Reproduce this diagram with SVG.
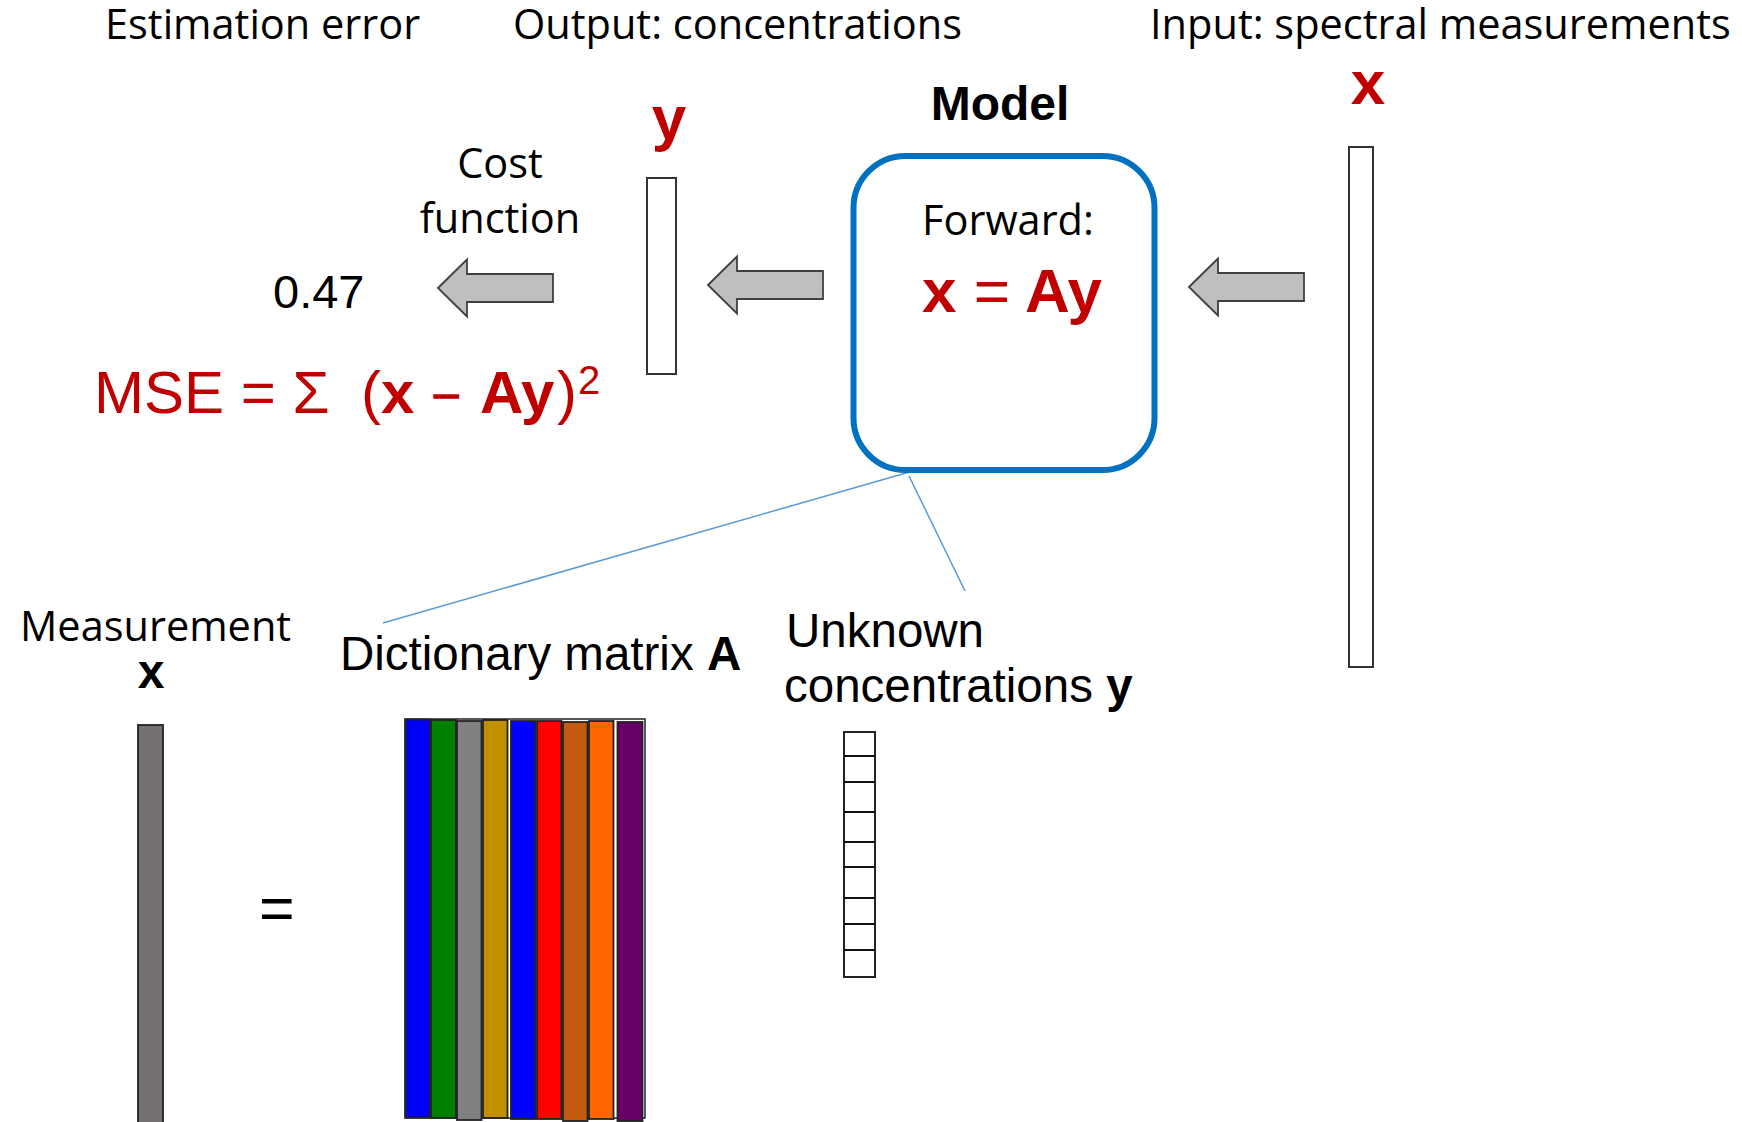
<svg xmlns="http://www.w3.org/2000/svg" width="1742" height="1122" viewBox="0 0 1742 1122">
<style>
.cal{font-family:"Open Sans","Liberation Sans",sans-serif;font-size:41.5px;fill:#000}
.ar{font-family:"Liberation Sans",Arial,sans-serif;fill:#000}
.red{fill:#C00000}
.b{font-weight:bold}
.n{font-weight:normal}
.arrow{fill:#BFBFBF;stroke:#404040;stroke-width:1.8}
.vec{fill:#fff;stroke:#333;stroke-width:2}
.col{stroke:#222;stroke-width:1.8}
.conn{stroke:#5B9BD5;stroke-width:1.5;fill:none}
</style>
<defs>
<path id="blk" d="M0,0 L29,-28.5 L29,-14 L115,-14 L115,14 L29,14 L29,28.5 Z"/>
</defs>
<rect width="1742" height="1122" fill="#fff"/>

<g id="connectors">
<line class="conn" x1="920" y1="469" x2="383" y2="623"/>
<line class="conn" x1="909" y1="476" x2="965" y2="591"/>
</g>

<g id="estimation-error">
<text class="cal" x="105" y="39">Estimation error</text>
<text class="ar" x="273" y="308" font-size="47">0.47</text>
</g>

<g id="cost-function">
<text class="cal" x="500" y="178" text-anchor="middle">Cost</text>
<text class="cal" x="500" y="233" text-anchor="middle">function</text>
<use href="#blk" class="arrow" transform="translate(438,288)"/>
</g>

<g id="mse">
<text class="ar red" y="413" font-size="60"><tspan x="94">MSE = Σ</tspan><tspan x="361">(</tspan><tspan class="b">x</tspan><tspan x="434" dy="-5" font-size="44" stroke="#C00000" stroke-width="1.4">–</tspan><tspan x="480" dy="5" class="b">Ay</tspan><tspan x="557">)</tspan><tspan x="578" y="394" font-size="40">2</tspan></text>
</g>

<g id="output">
<text class="cal" x="513" y="39">Output: concentrations</text>
<text class="ar red b" x="669" y="139" font-size="62" text-anchor="middle">y</text>
<rect class="vec" x="647" y="178" width="29" height="196"/>
<use href="#blk" class="arrow" transform="translate(708,285)"/>
</g>

<g id="model">
<text class="ar b" x="1000" y="120" font-size="48" text-anchor="middle">Model</text>
<rect x="853.5" y="156" width="301" height="314" rx="52" ry="52" fill="#fff" stroke="#0070C0" stroke-width="6"/>
<text class="cal" x="1008" y="235" text-anchor="middle">Forward:</text>
<text class="ar red b" x="1012" y="312" font-size="62" text-anchor="middle">x <tspan class="n">=</tspan> Ay</text>
</g>

<g id="input">
<text class="cal" x="1150" y="39">Input: spectral measurements</text>
<text class="ar red b" x="1368" y="104" font-size="62" text-anchor="middle">x</text>
<rect class="vec" x="1349" y="147" width="24" height="520"/>
<use href="#blk" class="arrow" transform="translate(1189,287)"/>
</g>

<g id="measurement">
<text class="cal" x="20" y="641">Measurement</text>
<text class="ar b" x="151" y="688" font-size="48" text-anchor="middle">x</text>
<rect x="138" y="725" width="25" height="420" fill="#767171" stroke="#222" stroke-width="1.8"/>
<text class="ar" x="259" y="929" font-size="61">=</text>
</g>

<g id="dictionary">
<text class="ar" x="340" y="670" font-size="47.5">Dictionary matrix <tspan class="b">A</tspan></text>
<rect x="405" y="719" width="240" height="399" fill="#fff" stroke="#222" stroke-width="1.5"/>
<rect class="col" x="405.5" y="719.5" width="24.5" height="398" fill="#0000FF"/>
<rect class="col" x="431" y="720" width="25" height="398" fill="#007F00"/>
<rect class="col" x="457" y="721" width="24.5" height="399" fill="#808080"/>
<rect class="col" x="483" y="720" width="24.5" height="398" fill="#BF9000"/>
<rect class="col" x="511" y="721" width="24.5" height="398" fill="#0000FF"/>
<rect class="col" x="537" y="721" width="24.5" height="398" fill="#FF0000"/>
<rect class="col" x="563" y="722" width="24.5" height="399" fill="#C55A11"/>
<rect class="col" x="589" y="721" width="24.5" height="398" fill="#FF6600"/>
<rect class="col" x="617.5" y="722" width="25" height="399" fill="#660066"/>
</g>

<g id="unknown-concentrations">
<text class="ar" x="786" y="647" font-size="47.5">Unknown</text>
<text class="ar" x="784" y="702" font-size="47.5">concentrations <tspan class="b">y</tspan></text>
<rect x="844" y="732" width="31" height="245" fill="#fff" stroke="#222" stroke-width="2"/>
<path d="M844,756H875M844,782H875M844,812H875M844,842H875M844,867H875M844,898H875M844,924H875M844,950H875" stroke="#111" stroke-width="2.2"/>
</g>
</svg>
